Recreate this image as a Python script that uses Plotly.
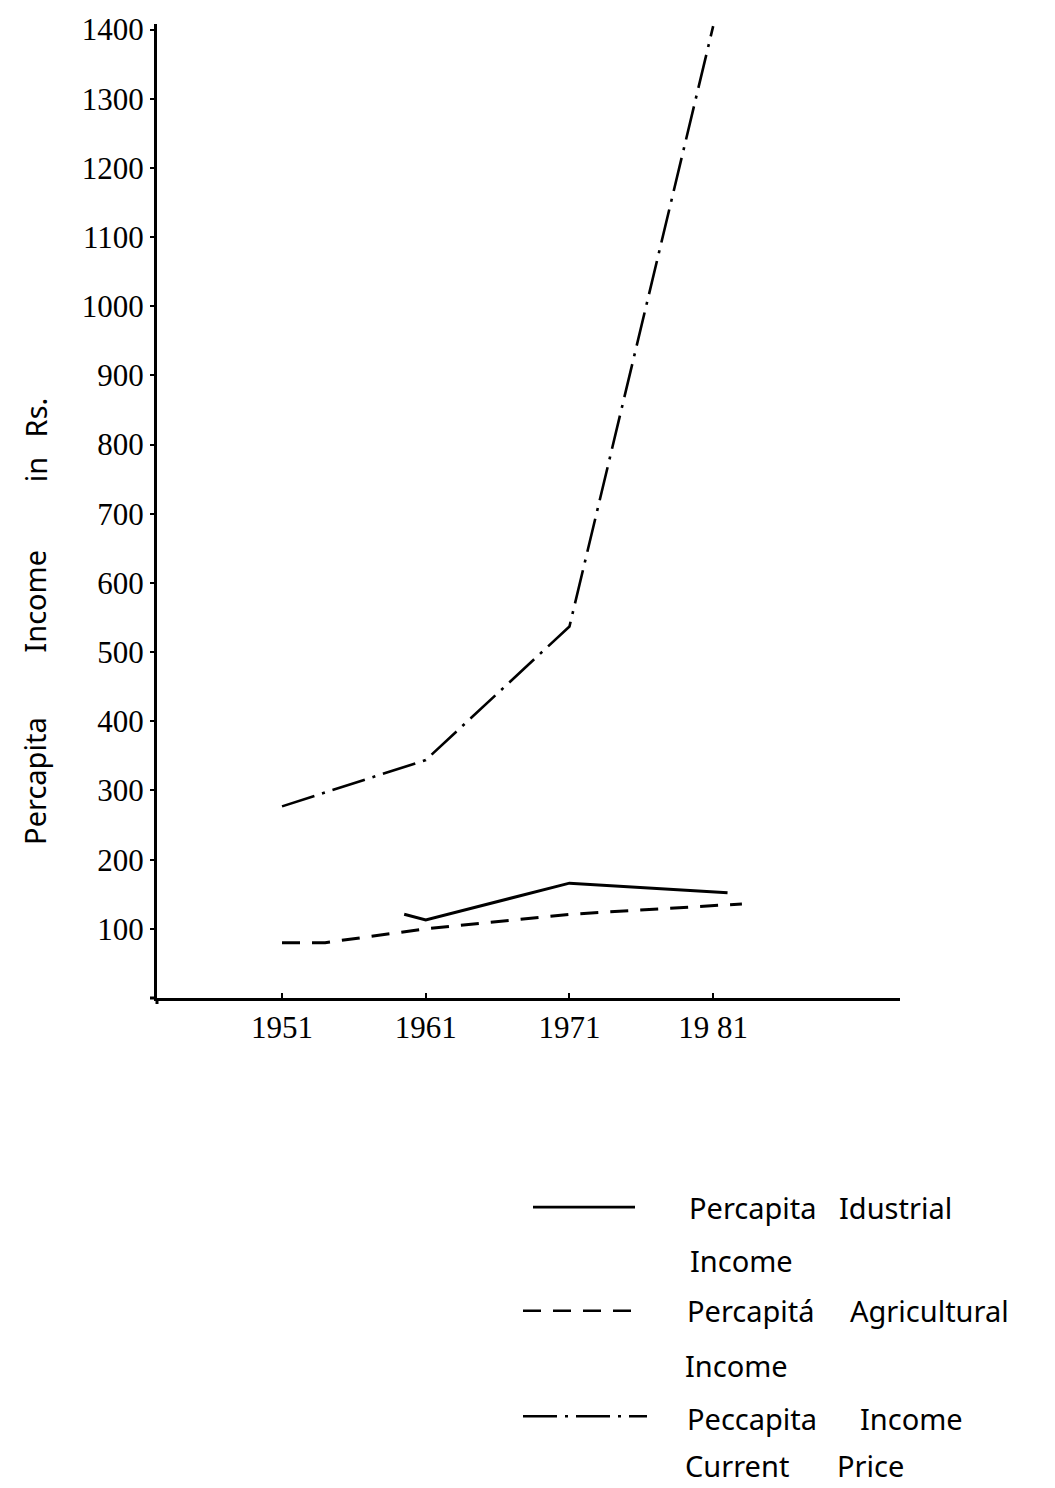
import plotly.graph_objects as go

# ---- data ----------------------------------------------------------------
census_years = [1951, 1961, 1971, 1981]
year_labels = ["1951", "1961", "1971", "19 81"]
income_ticks = list(range(100, 1500, 100))

# Per-capita industrial income (Rs.)
industrial_years = [1959.5, 1961, 1971, 1982]
industrial_income = [121, 113, 166, 152]

# Per-capita agricultural income (Rs.)
agri_years = [1951, 1954, 1961, 1971, 1983]
agri_income = [80, 80, 100, 121, 136]

# Per-capita income at current prices (Rs.)
current_years = [1951, 1961, 1971, 1981]
current_income = [277, 344, 537, 1405]

legend_rows = [
    ("solid", ["Percapita", "Idustrial"], ["Income"]),
    ("dash", ["Percapitá", "Agricultural"], ["Income"]),
    ("dashdot", ["Peccapita", "Income"], ["Current", "Price"]),
]

# ---- layout geometry (page pixels) ---------------------------------------
W, H = 1055, 1488
PLOT_L, PLOT_R, PLOT_T, PLOT_B = 157, 900, 20, 998
X_RANGE = [1942.3, 1994.0]
Y_RANGE = [0, 1408]


def paper_x(px):
    return (px - PLOT_L) / (PLOT_R - PLOT_L)


def paper_y(py):
    return (PLOT_B - py) / (PLOT_B - PLOT_T)


INK = "black"
DASH = "18px,12px"
DASHDOT = "34px,8px,3px,8px"
serif = dict(family="Liberation Serif", size=31, color=INK)
sans = dict(family="Noto Sans", size=29, color=INK)

fig = go.Figure()
fig.add_trace(go.Scatter(x=industrial_years, y=industrial_income, mode="lines",
                         line=dict(color=INK, width=3), name="Percapita Idustrial Income"))
fig.add_trace(go.Scatter(x=agri_years, y=agri_income, mode="lines",
                         line=dict(color=INK, width=3, dash=DASH),
                         name="Percapitá Agricultural Income"))
fig.add_trace(go.Scatter(x=current_years, y=current_income, mode="lines",
                         line=dict(color=INK, width=2.6, dash=DASHDOT),
                         name="Peccapita Income Current Price"))

fig.update_layout(
    width=W, height=H,
    margin=dict(l=PLOT_L, r=W - PLOT_R, t=PLOT_T, b=H - PLOT_B),
    paper_bgcolor="white", plot_bgcolor="white",
    showlegend=False,
)
fig.update_xaxes(
    range=X_RANGE, tickvals=census_years, ticktext=year_labels,
    showline=True, linecolor=INK, linewidth=3,
    ticks="inside", ticklen=5, tickwidth=2, tickcolor=INK,
    showgrid=False, zeroline=False, tickfont=serif, ticklabelstandoff=0,
)
fig.update_yaxes(
    range=Y_RANGE, tickvals=income_ticks,
    showline=True, linecolor=INK, linewidth=3,
    ticks="outside", ticklen=4, tickwidth=2, tickcolor=INK,
    showgrid=False, zeroline=False, tickfont=serif,
)

# axes overshoot slightly past the origin
fig.add_shape(type="line", xref="paper", yref="paper",
              x0=paper_x(150), x1=0, y0=0, y1=0, line=dict(color=INK, width=3))
fig.add_shape(type="line", xref="paper", yref="paper",
              x0=0, x1=0, y0=paper_y(1004), y1=0, line=dict(color=INK, width=3))

# rotated y-axis title, word by word
title_words = [("Percapita", 780), ("Income", 600), ("in", 468), ("Rs.", 415)]
for word, py in title_words:
    fig.add_annotation(text=word, xref="paper", x=paper_x(35), yref="paper", y=paper_y(py),
                       textangle=-90, showarrow=False, font=sans,
                       xanchor="center", yanchor="middle")

# hand-made key below the chart
sample_rows = [
    ("solid", 533, 635, 1208),
    (DASH, 523, 633, 1312),
    (DASHDOT, 523, 647, 1418),
]
for dash, x0, x1, py in sample_rows:
    fig.add_shape(type="line", xref="paper", yref="paper",
                  x0=paper_x(x0), x1=paper_x(x1), y0=paper_y(py), y1=paper_y(py),
                  line=dict(color=INK, width=2.6, dash=dash))

word_places = [
    [(687, 1208), (837, 1208)], [(688, 1262)],
    [(685, 1312), (848, 1312)], [(683, 1367)],
    [(685, 1420), (858, 1420)], [(683, 1467), (835, 1467)],
]
lines_of_words = []
for _, first, second in legend_rows:
    lines_of_words.append(first)
    lines_of_words.append(second)
for words, places in zip(lines_of_words, word_places):
    for word, (px, py) in zip(words, places):
        fig.add_annotation(text=word, xref="paper", x=paper_x(px), yref="paper", y=paper_y(py),
                           showarrow=False, font=sans, xanchor="left", yanchor="middle")

fig.write_html("out.html")
